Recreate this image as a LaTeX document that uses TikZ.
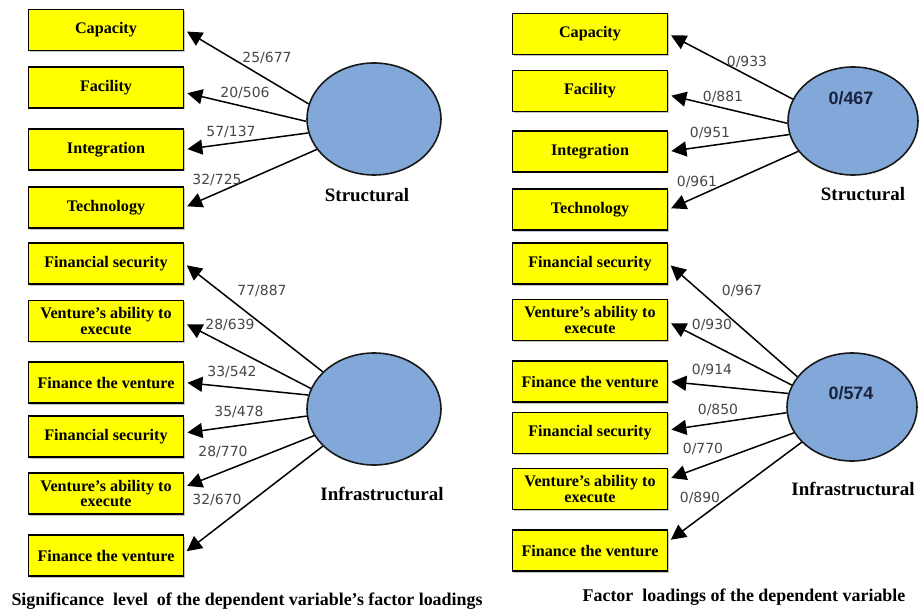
\documentclass[tikz,border=0pt]{standalone}
\usepackage{fontspec}
\setmainfont{Liberation Serif}
\newfontfamily\numfont{DejaVu Sans}
\newfontfamily\valfont{Liberation Sans}
\usepackage{xcolor}
\usepackage{tikz}
\usetikzlibrary{arrows.meta,shapes.geometric,shadows}
\definecolor{boxyellow}{RGB}{255,255,0}
\definecolor{latentblue}{RGB}{130,168,217}
\definecolor{valgray}{RGB}{70,70,70}
\definecolor{valnavy}{RGB}{25,35,60}

\begin{document}
\begin{tikzpicture}[x=1bp, y=-1bp,
                  factorbox/.style={draw=black, line width=1.8bp, fill=boxyellow,
                      minimum width=155bp, minimum height=41bp, inner sep=0pt,
                      align=center, font=\fontsize{16.2}{15.5}\selectfont\bfseries,
                      drop shadow={shadow xshift=1.5bp, shadow yshift=-1.5bp,
                      fill=black!45}},
                  latent/.style={ellipse, draw=black!90, line width=1.6bp,
                      fill=latentblue, minimum width=134bp, minimum height=112bp,
                      inner sep=0pt},
                  loading/.style={line width=1.5bp,
                      -{Triangle[length=15bp,width=15bp]}, shorten >=3bp},
                  loadval/.style={text=valgray,
                      font=\numfont\fontsize{14}{14}\selectfont},
                  latentval/.style={text=valnavy,
                      font=\valfont\fontsize{18}{18}\selectfont\bfseries},
                  latentname/.style={font=\fontsize{19}{19}\selectfont\bfseries},
                  caption/.style={font=\fontsize{18}{18}\selectfont\bfseries}]
                  \useasboundingbox (0,0) rectangle (919,611);
                  \foreach \k/\yl/\yr/\t in {1/30/34/Capacity, 2/87.5/91/Facility,
                      3/149.5/151.5/Integration, 4/207.5/209.5/Technology}
                  {
                  \node[factorbox] (ls\k) at (106,\yl) {\t};
                  \node[factorbox] (rs\k) at (590,\yr) {\t};
                  }
                  \foreach \k/\yl/\yr/\t in {1/263.5/263.5/Financial security,
                      2/321/320/{Venture’s ability to\\execute},
                      3/382.5/381.5/Finance the venture,
                      4/436.5/433/Financial security,
                      5/493.5/489/{Venture’s ability to\\execute},
                      6/555.5/550.5/Finance the venture}
                  {
                  \node[factorbox] (li\k) at (106,\yl) {\t};
                  \node[factorbox] (ri\k) at (590,\yr) {\t};
                  }
                  \node[latent] (lS) at (374,119) {};
                  \node[latent] (lI) at (374,409) {};
                  \node[latent, minimum width=130bp, minimum height=108bp] (rS) 
                  at (853,121) {};
                  \node[latent, minimum width=130bp, minimum height=108bp] (rI) 
                  at (852,407) {};
                  \node[latentval] (rSval) at (851,98) {0/467};
                  \node[latentval] (rIval) at (851,393) {0/574};
                  \node[latentname] (lSname) at (367,195) {Structural};
                  \node[latentname] (lIname) at (382,494) {Infrastructural};
                  \node[latentname] (rSname) at (863,194) {Structural};
                  \node[latentname] (rIname) at (853,489) {Infrastructural};
                  \foreach \k/\a/\o in {1/167/0, 2/182/-5, 3/192/0, 4/208/0}
                  \draw[loading] (lS.\a) -- ([yshift=\o bp]ls\k.east);
                  \foreach \k/\a/\o in {1/144/0, 2/162/-2, 3/168/0, 4/186/3.5,
                      5/204/6.5, 6/216/2.5}
                  \draw[loading] (lI.\a) -- ([yshift=\o bp]li\k.east);
                  \foreach \k/\a/\o in {1/160/0, 2/182/-4, 3/192/0, 4/209/0}
                  \draw[loading] (rS.\a) -- ([yshift=\o bp]rs\k.east);
                  \foreach \k/\a/\o in {1/151/0, 2/160/-2, 3/168/0, 4/185/3,
                      5/204/10, 6/215/9}
                  \draw[loading] (rI.\a) -- ([yshift=\o bp]ri\k.east);
                  \foreach \x/\y/\v in {267/58/{25/677}, 245/93/{20/506},
                      231/132/{57/137}, 217/180/{32/725}, 262/291/{77/887},
                      230/325/{28/639}, 232/372/{33/542}, 239/412/{35/478},
                      223/452/{28/770}, 217/500/{32/670}}
                  \node[loadval] at (\x,\y) {\v};
                  \foreach \x/\y/\v in {747/62/{0/933}, 723/97/{0/881},
                      710/133/{0/951}, 697/182/{0/961}, 742/291/{0/967},
                      712/325/{0/930}, 712/370/{0/914}, 718/410/{0/850},
                      703/449/{0/770}, 700/498/{0/890}}
                  \node[loadval] at (\x,\y) {\v};
                  \node[caption, anchor=west] (lcap) at (8,601) 
                  {Significance\enspace level\enspace of the dependent variable's 
                      factor loadings};
                  \node[caption] (rcap) at (744,597) 
                  {Factor\enspace loadings of the dependent variable};
\end{tikzpicture}
\end{document}
